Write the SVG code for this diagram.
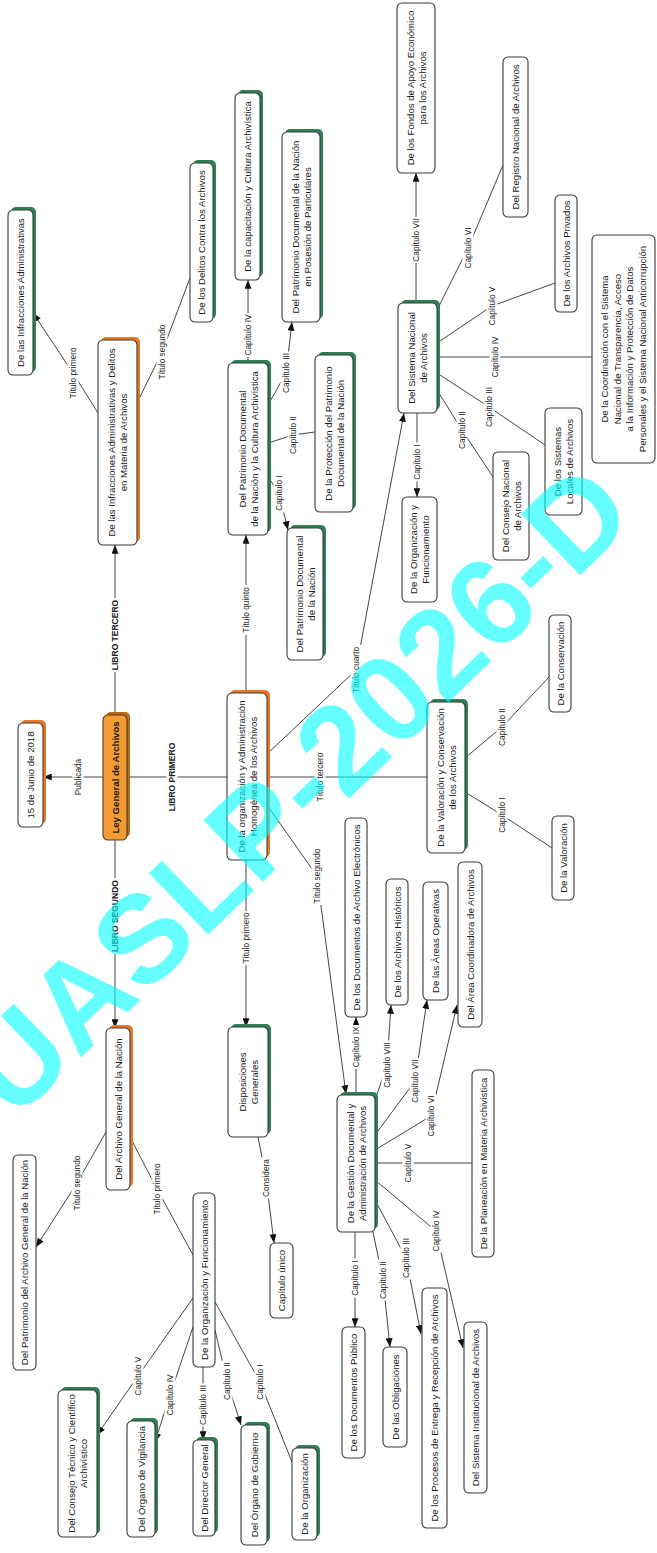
<svg xmlns="http://www.w3.org/2000/svg" width="657" height="1553" viewBox="0 0 657 1553">
<style>
.box{fill:#fff;stroke:#3a3a3a;stroke-width:1.1}
.sg{fill:#2f7f57}
.so{fill:#e9792a}
.nt{font-family:"Liberation Sans",Arial,sans-serif;font-size:9.6px;fill:#1a1a1a;text-anchor:middle}
.ley{fill:#f39c34;stroke:#5a3a14;stroke-width:1.1}
.c{fill:none;stroke:#444;stroke-width:1}
.ca{fill:none;stroke:#444;stroke-width:1;marker-end:url(#ah)}
.lb rect{fill:#fff}
.lb text{font-family:"Liberation Sans",Arial,sans-serif;font-size:8.3px;fill:#222;text-anchor:middle}
.lb text.b{font-weight:bold;font-size:8.5px}
.wm{font-family:"Liberation Sans",Arial,sans-serif;font-size:124px;font-weight:bold;fill:#00ffff;opacity:0.6}
</style>
<defs>
<marker id="ah" viewBox="0 0 10 8" refX="10" refY="4" markerWidth="9" markerHeight="7" markerUnits="userSpaceOnUse" orient="auto"><path d="M0,0 L10,4 L0,8 z" fill="#111"/></marker>
</defs>
<rect width="657" height="1553" fill="#fff"/>
<g transform="translate(0,1553) rotate(-90)">
<g id="connectors">
<path class="ca" d="M776,103 L776,43"/>
<path class="ca" d="M838,115 L1008,115"/>
<path class="c" d="M776,127 L776,227"/>
<path class="ca" d="M713,115 L525,115"/>
<path class="ca" d="M693,246 L526,246"/>
<path class="ca" d="M748,267 L677,317 L459,346"/>
<path class="c" d="M776,267 L776,427"/>
<path class="ca" d="M798,266 L883,356 L1140,404"/>
<path class="ca" d="M860,246 L1018,246"/>
<path class="ca" d="M1140,98 L1180,73 L1240,33"/>
<path class="c" d="M1150,137 L1201,162 L1275,190"/>
<path class="ca" d="M1190,248 L1273,248"/>
<path class="ca" d="M1148,268 L1180,286 L1231,292"/>
<path class="c" d="M1110,268 L1118,293 L1121,315"/>
<path class="ca" d="M1076,268 L1060,279 L1023,288"/>
<path class="ca" d="M1140,417 L1056,417"/>
<path class="c" d="M1163,437 L1123,462 L1076,493"/>
<path class="c" d="M1180,437 L1146,489 L1108,545"/>
<path class="c" d="M1196,437 L1196,592"/>
<path class="c" d="M1210,437 L1247,492 L1270,555"/>
<path class="c" d="M1243,437 L1305,468 L1388,503"/>
<path class="ca" d="M1250,416 L1380,416"/>
<path class="c" d="M795,465 L826,502 L876,549"/>
<path class="c" d="M761,465 L738,502 L705,552"/>
<path class="ca" d="M458,356 L536,356"/>
<path class="ca" d="M453,375 L488,387 L548,391"/>
<path class="ca" d="M418,375 L472,415 L553,427"/>
<path class="ca" d="M403,375 L437,431 L548,457"/>
<path class="c" d="M390,375 L390,472"/>
<path class="ca" d="M373,375 L322,436 L205,463"/>
<path class="ca" d="M353,375 L295,406 L219,421"/>
<path class="ca" d="M321,373 L273,383 L206,390"/>
<path class="ca" d="M321,355 L226,355"/>
<path class="ca" d="M416,258 L375,266 L310,274"/>
<path class="ca" d="M421,106 L370,77 L306,36"/>
<path class="c" d="M416,130 L364,157 L298,193"/>
<path class="ca" d="M255,193 L177,138 L118,97"/>
<path class="ca" d="M226,193 L158,170 L111,155"/>
<path class="ca" d="M186,203 L113,203"/>
<path class="ca" d="M223,215 L172,227 L128,241"/>
<path class="c" d="M251,215 L171,260 L91,292"/>
<g class="lb" transform="translate(776,78)"><rect x="-20" y="-5.5" width="40" height="11"/><text y="3">Publicada</text></g>
<g class="lb" transform="translate(918,115)"><rect x="-37" y="-5.5" width="74" height="11"/><text class="b" y="3">LIBRO TERCERO</text></g>
<g class="lb" transform="translate(776,172)"><rect x="-37" y="-5.5" width="74" height="11"/><text class="b" y="3">LIBRO PRIMERO</text></g>
<g class="lb" transform="translate(637,115)"><rect x="-38" y="-5.5" width="76" height="11"/><text class="b" y="3">LIBRO SEGUNDO</text></g>
<g class="lb" transform="translate(615,246)"><rect x="-27" y="-5.5" width="54" height="11"/><text y="3">Título primero</text></g>
<g class="lb" transform="translate(677,317)"><rect x="-29" y="-5.5" width="58" height="11"/><text y="3">Título segundo</text></g>
<g class="lb" transform="translate(776,320)"><rect x="-26" y="-5.5" width="52" height="11"/><text y="3">Título tercero</text></g>
<g class="lb" transform="translate(883,356)"><rect x="-25" y="-5.5" width="50" height="11"/><text y="3">Título cuarto</text></g>
<g class="lb" transform="translate(943,246)"><rect x="-25" y="-5.5" width="50" height="11"/><text y="3">Título quinto</text></g>
<g class="lb" transform="translate(1180,73)"><rect x="-27" y="-5.5" width="54" height="11"/><text y="3">Título primero</text></g>
<g class="lb" transform="translate(1201,162)"><rect x="-29" y="-5.5" width="58" height="11"/><text y="3">Título segundo</text></g>
<g class="lb" transform="translate(1218,248)"><rect x="-22" y="-5.5" width="44" height="11"/><text y="3">Capítulo IV</text></g>
<g class="lb" transform="translate(1180,286)"><rect x="-21.5" y="-5.5" width="43" height="11"/><text y="3">Capítulo III</text></g>
<g class="lb" transform="translate(1118,293)"><rect x="-20.5" y="-5.5" width="41" height="11"/><text y="3">Capítulo II</text></g>
<g class="lb" transform="translate(1060,279)"><rect x="-19.5" y="-5.5" width="39" height="11"/><text y="3">Capítulo I</text></g>
<g class="lb" transform="translate(1091,417)"><rect x="-19.5" y="-5.5" width="39" height="11"/><text y="3">Capítulo I</text></g>
<g class="lb" transform="translate(1123,462)"><rect x="-20.5" y="-5.5" width="41" height="11"/><text y="3">Capítulo II</text></g>
<g class="lb" transform="translate(1146,489)"><rect x="-21.5" y="-5.5" width="43" height="11"/><text y="3">Capítulo III</text></g>
<g class="lb" transform="translate(1196,495)"><rect x="-22" y="-5.5" width="44" height="11"/><text y="3">Capítulo IV</text></g>
<g class="lb" transform="translate(1247,492)"><rect x="-21" y="-5.5" width="42" height="11"/><text y="3">Capítulo V</text></g>
<g class="lb" transform="translate(1305,468)"><rect x="-22" y="-5.5" width="44" height="11"/><text y="3">Capítulo VI</text></g>
<g class="lb" transform="translate(1313,416)"><rect x="-23" y="-5.5" width="46" height="11"/><text y="3">Capítulo VII</text></g>
<g class="lb" transform="translate(826,502)"><rect x="-20.5" y="-5.5" width="41" height="11"/><text y="3">Capítulo II</text></g>
<g class="lb" transform="translate(738,502)"><rect x="-19.5" y="-5.5" width="39" height="11"/><text y="3">Capítulo I</text></g>
<g class="lb" transform="translate(506,356)"><rect x="-22" y="-5.5" width="44" height="11"/><text y="3">Capítulo IX</text></g>
<g class="lb" transform="translate(488,387)"><rect x="-24.5" y="-5.5" width="49" height="11"/><text y="3">Capítulo VIII</text></g>
<g class="lb" transform="translate(472,415)"><rect x="-23" y="-5.5" width="46" height="11"/><text y="3">Capítulo VII</text></g>
<g class="lb" transform="translate(437,431)"><rect x="-22" y="-5.5" width="44" height="11"/><text y="3">Capítulo VI</text></g>
<g class="lb" transform="translate(390,408)"><rect x="-21" y="-5.5" width="42" height="11"/><text y="3">Capítulo V</text></g>
<g class="lb" transform="translate(322,436)"><rect x="-22" y="-5.5" width="44" height="11"/><text y="3">Capítulo IV</text></g>
<g class="lb" transform="translate(295,406)"><rect x="-21.5" y="-5.5" width="43" height="11"/><text y="3">Capítulo III</text></g>
<g class="lb" transform="translate(273,383)"><rect x="-20.5" y="-5.5" width="41" height="11"/><text y="3">Capítulo II</text></g>
<g class="lb" transform="translate(275,355)"><rect x="-19.5" y="-5.5" width="39" height="11"/><text y="3">Capítulo I</text></g>
<g class="lb" transform="translate(375,266)"><rect x="-20.5" y="-5.5" width="41" height="11"/><text y="3">Considera</text></g>
<g class="lb" transform="translate(370,77)"><rect x="-29" y="-5.5" width="58" height="11"/><text y="3">Título segundo</text></g>
<g class="lb" transform="translate(364,157)"><rect x="-27" y="-5.5" width="54" height="11"/><text y="3">Título primero</text></g>
<g class="lb" transform="translate(177,138)"><rect x="-21" y="-5.5" width="42" height="11"/><text y="3">Capítulo V</text></g>
<g class="lb" transform="translate(158,170)"><rect x="-22" y="-5.5" width="44" height="11"/><text y="3">Capítulo IV</text></g>
<g class="lb" transform="translate(148,203)"><rect x="-21.5" y="-5.5" width="43" height="11"/><text y="3">Capítulo III</text></g>
<g class="lb" transform="translate(172,227)"><rect x="-20.5" y="-5.5" width="41" height="11"/><text y="3">Capítulo II</text></g>
<g class="lb" transform="translate(171,260)"><rect x="-19.5" y="-5.5" width="39" height="11"/><text y="3">Capítulo I</text></g>
</g>
<g id="n_infadm"><rect class="sg" x="1181" y="11" width="165" height="25" rx="5"/><rect class="box" x="1178" y="8" width="165" height="25" rx="5"/><text class="nt" x="1260.5" y="24">De las Infracciones Administrativas</text></g>
<g id="n_delitos"><rect class="sg" x="1234" y="193" width="159" height="23" rx="5"/><rect class="box" x="1231" y="190" width="159" height="23" rx="5"/><text class="nt" x="1310.5" y="205">De los Delitos Contra los Archivos</text></g>
<g id="n_capac"><rect class="sg" x="1276" y="238" width="187" height="25" rx="5"/><rect class="box" x="1273" y="235" width="187" height="25" rx="5"/><text class="nt" x="1366.5" y="251">De la capacitación y Cultura Archivística</text></g>
<g id="n_posesion"><rect class="sg" x="1234" y="285" width="190" height="38" rx="5"/><rect class="box" x="1231" y="282" width="190" height="38" rx="5"/><text class="nt" x="1326" y="298.5">Del Patrimonio Documental de la Nación</text><text class="nt" x="1326" y="310.5">en Posesión de Particulares</text></g>
<g id="n_fondos"><rect class="box" x="1380" y="397" width="170" height="38" rx="5"/><text class="nt" x="1465" y="413.5">De los Fondos de Apoyo Económico</text><text class="nt" x="1465" y="425.5">para los Archivos</text></g>
<g id="n_registro"><rect class="box" x="1336" y="503" width="160" height="25" rx="5"/><text class="nt" x="1416" y="519">Del Registro Nacional de Archivos</text></g>
<g id="n_privados"><rect class="box" x="1241" y="555" width="117" height="22" rx="5"/><text class="nt" x="1299.5" y="569.5">De los Archivos Privados</text></g>
<g id="n_coord"><rect class="box" x="1090" y="592" width="228" height="63" rx="5"/><text class="nt" x="1204" y="608">De la Coordinación con el Sistema</text><text class="nt" x="1204" y="620.5">Nacional de Transparencia, Acceso</text><text class="nt" x="1204" y="633">a la Información y Protección de Datos</text><text class="nt" x="1204" y="645.5">Personales y el Sistema Nacional Anticorrupción</text></g>
<g id="n_sna"><rect class="sg" x="1143" y="401" width="110" height="39" rx="5"/><rect class="box" x="1140" y="398" width="110" height="39" rx="5"/><text class="nt" x="1195" y="415">Del Sistema Nacional</text><text class="nt" x="1195" y="427">de Archivos</text></g>
<g id="n_locales"><rect class="box" x="1038" y="545" width="107" height="37" rx="5"/><text class="nt" x="1091.5" y="561">De los Sistemas</text><text class="nt" x="1091.5" y="573">Locales de Archivos</text></g>
<g id="n_consejonac"><rect class="box" x="993" y="493" width="108" height="36" rx="5"/><text class="nt" x="1047" y="508.5">Del Consejo Nacional</text><text class="nt" x="1047" y="520.5">de Archivos</text></g>
<g id="n_infdel"><rect class="so" x="1011" y="101" width="205" height="39" rx="5"/><rect class="box" x="1008" y="98" width="205" height="39" rx="5"/><text class="nt" x="1110.5" y="115">De las Infracciones Administrativas y Delitos</text><text class="nt" x="1110.5" y="127">en Materia de Archivos</text></g>
<g id="n_patcult"><rect class="sg" x="1021" y="231" width="172" height="40" rx="5"/><rect class="box" x="1018" y="228" width="172" height="40" rx="5"/><text class="nt" x="1104" y="245.5">Del Patrimonio Documental</text><text class="nt" x="1104" y="257.5">de la Nación y la Cultura Archivística</text></g>
<g id="n_proteccion"><rect class="sg" x="1044" y="318" width="157" height="38" rx="5"/><rect class="box" x="1041" y="315" width="157" height="38" rx="5"/><text class="nt" x="1119.5" y="331.5">De la Protección del Patrimonio</text><text class="nt" x="1119.5" y="343.5">Documental de la Nación</text></g>
<g id="n_patnac"><rect class="sg" x="896" y="290" width="132" height="36" rx="5"/><rect class="box" x="893" y="287" width="132" height="36" rx="5"/><text class="nt" x="959" y="302.5">Del Patrimonio Documental</text><text class="nt" x="959" y="314.5">de la Nación</text></g>
<g id="n_sn_org"><rect class="box" x="951" y="402" width="105" height="35" rx="5"/><text class="nt" x="1003.5" y="417">De la Organización y</text><text class="nt" x="1003.5" y="429">Funcionamiento</text></g>
<g id="n_conserv"><rect class="box" x="841" y="549" width="97" height="22" rx="5"/><text class="nt" x="889.5" y="563.5">De la Conservación</text></g>
<g id="n_valcons"><rect class="sg" x="703" y="430" width="151" height="38" rx="5"/><rect class="box" x="700" y="427" width="151" height="38" rx="5"/><text class="nt" x="775.5" y="443.5">De la Valoración y Conservación</text><text class="nt" x="775.5" y="455.5">de los Archivos</text></g>
<g id="n_valor"><rect class="box" x="653" y="552" width="84" height="22" rx="5"/><text class="nt" x="695" y="566.5">De la Valoración</text></g>
<g id="n_electr"><rect class="box" x="536" y="345" width="199" height="22" rx="5"/><text class="nt" x="635.5" y="359.5">De los Documentos de Archivo Electrónicos</text></g>
<g id="n_hist"><rect class="box" x="548" y="386" width="126" height="22" rx="5"/><text class="nt" x="611" y="400.5">De los Archivos Históricos</text></g>
<g id="n_areas"><rect class="box" x="553" y="423" width="118" height="25" rx="5"/><text class="nt" x="612" y="439">De las Áreas Operativas</text></g>
<g id="n_areacoord"><rect class="box" x="526" y="458" width="165" height="24" rx="5"/><text class="nt" x="608.5" y="473.5">Del Área Coordinadora de Archivos</text></g>
<g id="n_gestion"><rect class="sg" x="324" y="340" width="137" height="38" rx="5"/><rect class="box" x="321" y="337" width="137" height="38" rx="5"/><text class="nt" x="389.5" y="353.5">De la Gestión Documental y</text><text class="nt" x="389.5" y="365.5">Administración de Archivos</text></g>
<g id="n_planea"><rect class="box" x="296" y="472" width="187" height="22" rx="5"/><text class="nt" x="389.5" y="486.5">De la Planeación en Materia Archivística</text></g>
<g id="n_docpub"><rect class="box" x="95" y="342" width="131" height="23" rx="5"/><text class="nt" x="160.5" y="357">De los Documentos Público</text></g>
<g id="n_oblig"><rect class="box" x="106" y="383" width="100" height="24" rx="5"/><text class="nt" x="156" y="398.5">De las Obligaciones</text></g>
<g id="n_procesos"><rect class="box" x="25" y="422" width="240" height="25" rx="5"/><text class="nt" x="145" y="438">De los Procesos de Entrega y Recepción de Archivos</text></g>
<g id="n_sistinst"><rect class="box" x="60" y="464" width="171" height="23" rx="5"/><text class="nt" x="145.5" y="479">Del Sistema Institucional de Archivos</text></g>
<g id="n_fecha"><rect class="so" x="729" y="21" width="104" height="25" rx="5"/><rect class="box" x="726" y="18" width="104" height="25" rx="5"/><text class="nt" x="778" y="34">15 de Junio de 2018</text></g>
<g id="n_ley"><rect fill="#b8661c" x="716" y="106" width="125" height="24" rx="5"/><rect class="ley" x="713" y="103" width="125" height="24" rx="5"/><text class="nt" x="775.5" y="118.5" font-weight="bold">Ley General de Archivos</text></g>
<g id="n_orgadm"><rect class="so" x="696" y="230" width="167" height="40" rx="5"/><rect class="box" x="693" y="227" width="167" height="40" rx="5"/><text class="nt" x="776.5" y="244.5">De la organización y Administración</text><text class="nt" x="776.5" y="256.5">Homogénea de los Archivos</text></g>
<g id="n_agn"><rect class="so" x="366" y="109" width="162" height="24" rx="5"/><rect class="box" x="363" y="106" width="162" height="24" rx="5"/><text class="nt" x="444" y="121.5">Del Archivo General de la Nación</text></g>
<g id="n_dispos"><rect class="sg" x="419" y="231" width="110" height="40" rx="5"/><rect class="box" x="416" y="228" width="110" height="40" rx="5"/><text class="nt" x="471" y="245.5">Disposiciones</text><text class="nt" x="471" y="257.5">Generales</text></g>
<g id="n_patagn"><rect class="box" x="183" y="13" width="215" height="23" rx="5"/><text class="nt" x="290.5" y="28">Del Patrimonio del Archivo General de la Nación</text></g>
<g id="n_agn_org"><rect class="box" x="186" y="193" width="174" height="22" rx="5"/><text class="nt" x="273" y="207.5">De la Organización y Funcionamiento</text></g>
<g id="n_capunico"><rect class="box" x="235" y="270" width="75" height="23" rx="5"/><text class="nt" x="272.5" y="285">Capítulo único</text></g>
<g id="n_consejotec"><rect class="sg" x="19" y="61" width="147" height="39" rx="5"/><rect class="box" x="16" y="58" width="147" height="39" rx="5"/><text class="nt" x="89.5" y="75">Del Consejo Técnico y Científico</text><text class="nt" x="89.5" y="87">Archivístico</text></g>
<g id="n_vigil"><rect class="sg" x="19" y="130" width="116" height="28" rx="5"/><rect class="box" x="16" y="127" width="116" height="28" rx="5"/><text class="nt" x="74" y="144.5">Del Órgano de Vigilancia</text></g>
<g id="n_director"><rect class="sg" x="20" y="196" width="96" height="22" rx="5"/><rect class="box" x="17" y="193" width="96" height="22" rx="5"/><text class="nt" x="65" y="207.5">Del Director General</text></g>
<g id="n_gobierno"><rect class="sg" x="11" y="244" width="120" height="26" rx="5"/><rect class="box" x="8" y="241" width="120" height="26" rx="5"/><text class="nt" x="68" y="257.5">Del Órgano de Gobierno</text></g>
<g id="n_organiz"><rect class="sg" x="16" y="295" width="92" height="25" rx="5"/><rect class="box" x="13" y="292" width="92" height="25" rx="5"/><text class="nt" x="59" y="308">De la Organización</text></g>
</g>
<text class="wm" x="14" y="1122" transform="rotate(-44 14 1122)">UASLP-2026-D</text>
</svg>
